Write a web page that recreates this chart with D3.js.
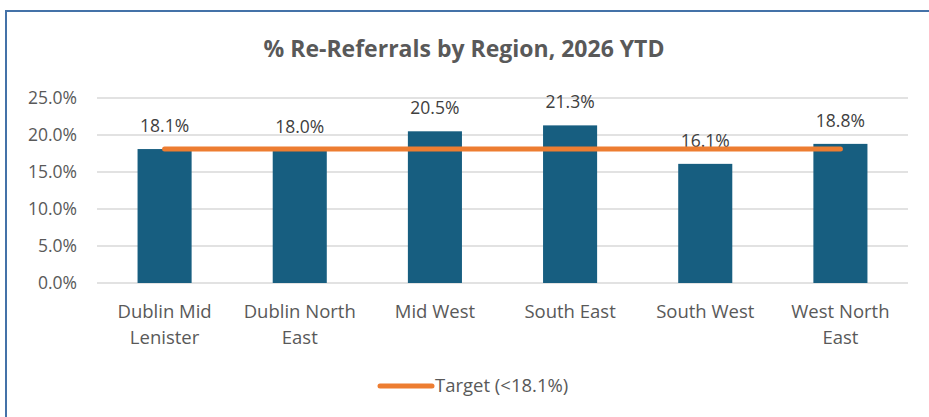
<!DOCTYPE html>
<html>
<head>
<meta charset="utf-8">
<script src="https://cdn.jsdelivr.net/npm/d3@7.9.0/dist/d3.min.js"></script>
<style>
  body { margin: 0; background: #fff; }
  svg { display: block; font-family: "Open Sans", sans-serif; }
</style>
</head>
<body>
<svg id="chart" width="929" height="417"></svg>
<script>
const regions = [["Dublin Mid", "Lenister"], ["Dublin North", "East"], ["Mid West"], ["South East"], ["South West"], ["West North", "East"]];
const reReferrals = [18.1, 18.0, 20.5, 21.3, 16.1, 18.8];
const target = 18.1;
const yTicks = [0, 5, 10, 15, 20, 25];

const svg = d3.select("#chart");
const textColor = "#595959";

// outer frame (only top + left visible in the crop)
svg.append("path")
  .attr("d", "M6,420 L6,11 L935,11")
  .attr("fill", "none")
  .attr("stroke", "#4472a8")
  .attr("stroke-width", 2);

svg.append("text")
  .attr("x", 464)
  .attr("y", 57)
  .attr("text-anchor", "middle")
  .style("font-size", "23px")
  .style("font-weight", "bold")
  .style("fill", textColor)
  .text("% Re-Referrals by Region, 2026 YTD");

const keys = regions.map(r => r.join(" "));
const x = d3.scaleBand().domain(keys).range([97, 908]).paddingInner(0.6).paddingOuter(0.3);
const y = d3.scaleLinear().domain([0, 25]).range([283, 98]);

// gridlines
svg.append("g")
  .selectAll("line")
  .data(yTicks)
  .join("line")
  .attr("x1", 97).attr("x2", 908)
  .attr("y1", d => y(d)).attr("y2", d => y(d))
  .attr("stroke", "#d9d9d9")
  .attr("stroke-width", 1.5);

// y axis labels
svg.append("g")
  .selectAll("text")
  .data(yTicks)
  .join("text")
  .attr("x", 77)
  .attr("y", d => y(d))
  .attr("dy", "0.35em")
  .attr("text-anchor", "end")
  .style("font-size", "17.5px")
  .style("fill", textColor)
  .text(d => d.toFixed(1) + "%");

// bars
svg.append("g")
  .selectAll("rect")
  .data(reReferrals)
  .join("rect")
  .attr("x", (d, i) => x(keys[i]))
  .attr("width", x.bandwidth())
  .attr("y", d => y(d))
  .attr("height", d => y(0) - y(d))
  .attr("fill", "#175e80");

// value labels
svg.append("g")
  .selectAll("text")
  .data(reReferrals)
  .join("text")
  .attr("x", (d, i) => x(keys[i]) + x.bandwidth() / 2)
  .attr("y", d => y(d) - 17)
  .attr("text-anchor", "middle")
  .style("font-size", "17.5px")
  .style("fill", "#404040")
  .text(d => d.toFixed(1) + "%");

// target line
const cx = k => x(k) + x.bandwidth() / 2;
svg.append("line")
  .attr("x1", cx(keys[0]))
  .attr("x2", cx(keys[keys.length - 1]))
  .attr("y1", y(target))
  .attr("y2", y(target))
  .attr("stroke", "#ed7d31")
  .attr("stroke-width", 5)
  .attr("stroke-linecap", "round");

// category labels
const cat = svg.append("g")
  .selectAll("text")
  .data(regions)
  .join("text")
  .attr("x", (d, i) => cx(keys[i]))
  .attr("y", 318)
  .attr("text-anchor", "middle")
  .style("font-size", "18.5px")
  .style("fill", textColor);
cat.selectAll("tspan")
  .data(d => d)
  .join("tspan")
  .attr("x", function() { return d3.select(this.parentNode).attr("x"); })
  .attr("dy", (d, i) => i === 0 ? 0 : 26)
  .text(d => d);

// legend
const legend = svg.append("g");
legend.append("line")
  .attr("x1", 380).attr("x2", 432)
  .attr("y1", 386).attr("y2", 386)
  .attr("stroke", "#ed7d31")
  .attr("stroke-width", 5)
  .attr("stroke-linecap", "round");
legend.append("text")
  .attr("x", 435)
  .attr("y", 386)
  .attr("dy", "0.35em")
  .style("font-size", "18.5px")
  .style("fill", textColor)
  .text("Target (<" + target.toFixed(1) + "%)");
</script>
</body>
</html>
